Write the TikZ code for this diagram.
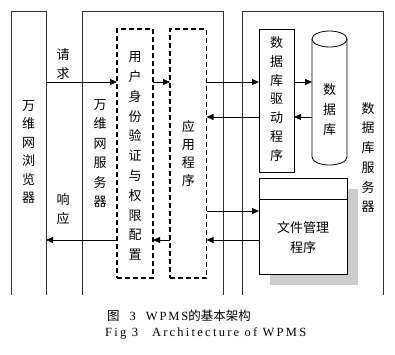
\documentclass[tikz,border=0pt]{standalone}
\usepackage{fontspec}
\setmainfont{Liberation Serif}
\newfontfamily\cjk{Noto Sans CJK SC}
\newfontfamily\capfont[LetterSpace=15]{Liberation Serif}
\newfontfamily\capfontb[LetterSpace=18]{Liberation Serif}
\usetikzlibrary{arrows.meta}
\begin{document}
\begin{tikzpicture}[x=1pt,y=-1pt,
  frame/.style={draw=black!80, line width=0.8pt},
  area/.style={inner sep=0pt, outer sep=0pt},
  dbox/.style={draw, line width=1.4pt, dash pattern=on 5pt off 3pt, inner sep=0pt, outer sep=0pt},
  sbox/.style={draw, line width=0.8pt, inner sep=0pt, outer sep=0pt},
  arr/.style={-{Triangle[length=7pt,width=6pt]}, line width=0.8pt},
  vt/.style={font=\cjk\fontsize{13}{#1}\selectfont, align=center, inner sep=0pt},
  vt/.default=19.5
]
\useasboundingbox (0,0) rectangle (395,354);

% server frames (open at the bottom)
\node[area, minimum width=35pt, minimum height=284pt] (browser) at (28.5,153) {};
\node[area, minimum width=141pt, minimum height=284pt] (web) at (152.5,153) {};
\node[area, minimum width=141pt, minimum height=284pt] (dbs) at (312.5,153) {};
\draw[frame] (browser.south west) |- (browser.north east) -- (browser.south east);
\draw[frame] (web.south west) |- (web.north east) -- (web.south east);
\draw[frame] (dbs.south west) |- (dbs.north east) -- (dbs.south east);

% inner boxes
\node[dbox, minimum width=36pt, minimum height=249pt] (auth) at (135,153.5) {};
\node[dbox, minimum width=36.5pt, minimum height=249pt] (app) at (188.25,153.5) {};
\node[sbox, minimum width=35pt, minimum height=143pt] (drv) at (276.5,100.5) {};

% database cylinder
\node[area, minimum width=35pt, minimum height=134pt] (db) at (329.5,98) {};
\draw[line width=0.8pt] (db.west |- 0,39) -- (db.west |- 0,157)
  arc[start angle=180, end angle=360, x radius=17.5pt, y radius=8pt] -- (db.east |- 0,39);
\draw[line width=0.8pt] (329.5,39) ellipse [x radius=17.5pt, y radius=8pt];

% file manager with shadow
\fill[black!20] (270,189) rectangle (358,285);
\node[sbox, fill=white, minimum width=88pt, minimum height=96pt] (file) at (303,226) {};
\draw[line width=0.8pt] (file.west |- 0,199) -- (file.east |- 0,199);

% texts
\node[vt=18.5] at (28.5,152) {万\\维\\网\\浏\\览\\器};
\node[vt=19.4] at (100,153.5) {万\\维\\网\\服\\务\\器};
\node[vt=19] at (63,64) {请\\求};
\node[vt=19] at (63,209) {响\\应};
\node[vt=19.8] at (auth.center |- 0,156) {用\\户\\身\\份\\验\\证\\与\\权\\限\\配\\置};
\node[vt=17.7] at (app.center |- 0,153.5) {应\\用\\程\\序};
\node[vt=18.7] at (drv.center |- 0,99) {数\\据\\库\\驱\\动\\程\\序};
\node[vt=20] at (db.center |- 0,110) {数\\据\\库};
\node[vt=19.7] at (368,157.5) {数\\据\\库\\服\\务\\器};
\node[vt=20] at (file.center |- 0,238) {文件管理\\程序};

% connectors
\coordinate (r1) at (0,82);
\coordinate (r2) at (0,117);
\coordinate (r3) at (0,211);
\coordinate (r4) at (0,240);
\draw[arr] (browser.east |- r1) -- (auth.west |- r1);
\draw[arr] (auth.east |- r1) -- (app.west |- r1);
\draw[arr] (app.east |- r1) -- (drv.west |- r1);
\draw[arr] (drv.east |- r1) -- (db.west |- r1);
\draw[arr] (db.west |- r2) -- (drv.east |- r2);
\draw[arr] (drv.west |- r2) -- (app.east |- r2);
\draw[arr] (app.east |- r3) -- (file.west |- r3);
\draw[arr] (file.west |- r4) -- (app.east |- r4);
\draw[arr] (app.west |- r4) -- (auth.east |- r4);
\draw[arr] (auth.west |- r4) -- (browser.east |- r4);

% caption
\node[anchor=west, inner sep=0pt, font=\fontsize{12.5}{14}\selectfont] (cap1) at (107,316)
  {{\cjk 图}\hspace{10pt}3\hspace{10pt}{\capfont WPMS}{\cjk 的基本架构}};
\node[anchor=west, inner sep=0pt, font=\capfontb\fontsize{12.5}{14}\selectfont] (cap2) at (105,333)
  {Fig 3\hspace{14pt}Architecture of WPMS};
\end{tikzpicture}
\end{document}
